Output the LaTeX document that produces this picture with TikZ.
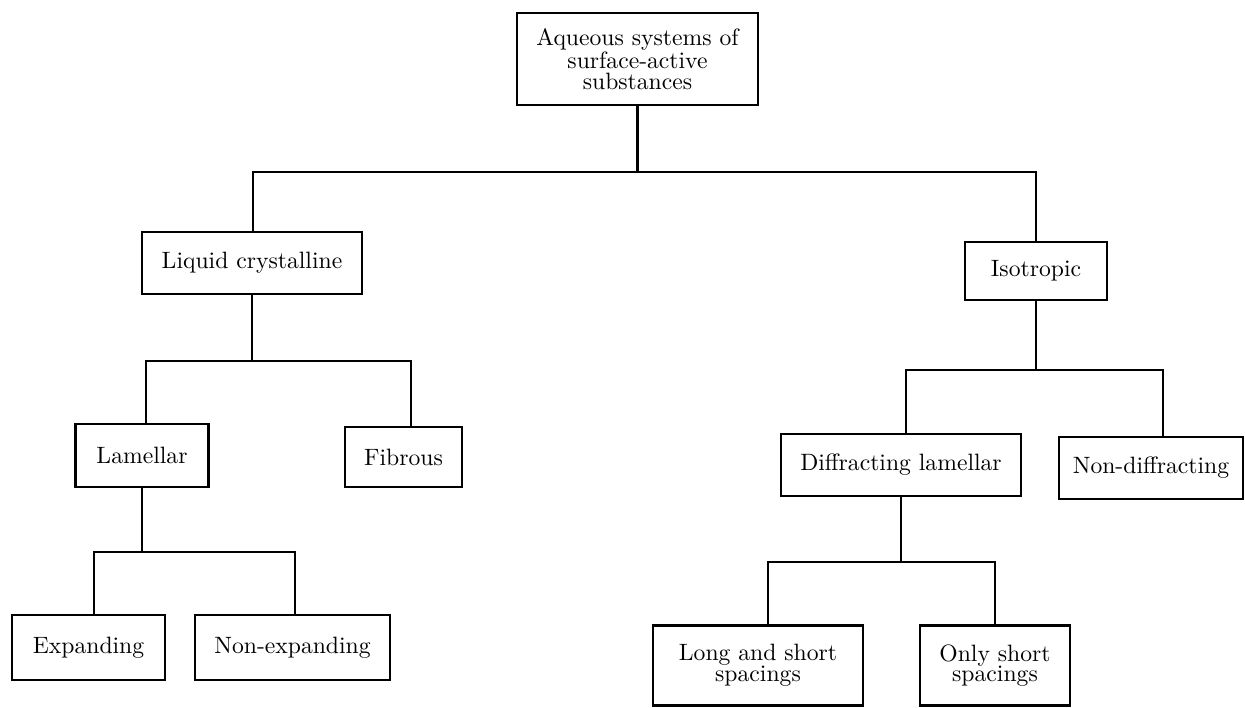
\documentclass[tikz,border=0pt]{standalone}
\begin{document}
\begin{tikzpicture}[
    x=0.444pt,
    y=-0.444pt,
    line width=0.9pt,
    every node/.style={
        rectangle,
        draw,
        align=center,
        inner sep=0pt,
        font=\fontsize{10.5}{9.2}\selectfont,
    },
    boxsize/.style 2 args={
        minimum width=#1*0.444pt,
        minimum height=#2*0.444pt,
    },
    ]
    \useasboundingbox (0,0) rectangle (1245,708);

    \node[boxsize={241}{92}] (root) at (637.5,59) {Aqueous systems of\\surface-active\\substances};
    \node[boxsize={220}{62}] (liquid) at (252,263) {Liquid crystalline};
    \node[boxsize={142}{58}] (iso) at (1036,271) {Isotropic};
    \node[boxsize={133}{63}] (lam) at (142,455.5) {Lamellar};
    \node[boxsize={117}{60}] (fib) at (403.5,457) {Fibrous};
    \node[boxsize={153}{65}] (exp) at (88.5,647.5) {Expanding};
    \node[boxsize={195}{65}] (nexp) at (292.5,647.5) {Non-expanding};
    \node[boxsize={240}{62}] (diff) at (901,465) {Diffracting lamellar};
    \node[boxsize={184}{62}] (ndiff) at (1151,468) {Non-diffracting};
    \node[boxsize={210}{80}] (long) at (758,665.5) {Long and short\\spacings};
    \node[boxsize={150}{80}] (short) at (995,665.5) {Only short\\spacings};

    \coordinate (j1a) at (253,172);
    \coordinate (j1b) at (1036,172);
    \coordinate (j2a) at (146,361);
    \coordinate (j2b) at (411,361);
    \coordinate (j3a) at (94,552);
    \coordinate (j3b) at (295,552);
    \coordinate (j4a) at (906,370);
    \coordinate (j4b) at (1163,370);
    \coordinate (j5a) at (768,562);
    \coordinate (j5b) at (995,562);

    \draw (root.south) -- (root.south |- j1a);
    \draw (j1a |- liquid.north) -- (j1a) -- (j1b) -- (j1b |- iso.north);
    \draw (liquid.south) -- (liquid.south |- j2a);
    \draw (j2a |- lam.north) -- (j2a) -- (j2b) -- (j2b |- fib.north);
    \draw (lam.south) -- (lam.south |- j3a);
    \draw (j3a |- exp.north) -- (j3a) -- (j3b) -- (j3b |- nexp.north);
    \draw (iso.south) -- (iso.south |- j4a);
    \draw (j4a |- diff.north) -- (j4a) -- (j4b) -- (j4b |- ndiff.north);
    \draw (diff.south) -- (diff.south |- j5a);
    \draw (j5a |- long.north) -- (j5a) -- (j5b) -- (j5b |- short.north);
\end{tikzpicture}
\end{document}
